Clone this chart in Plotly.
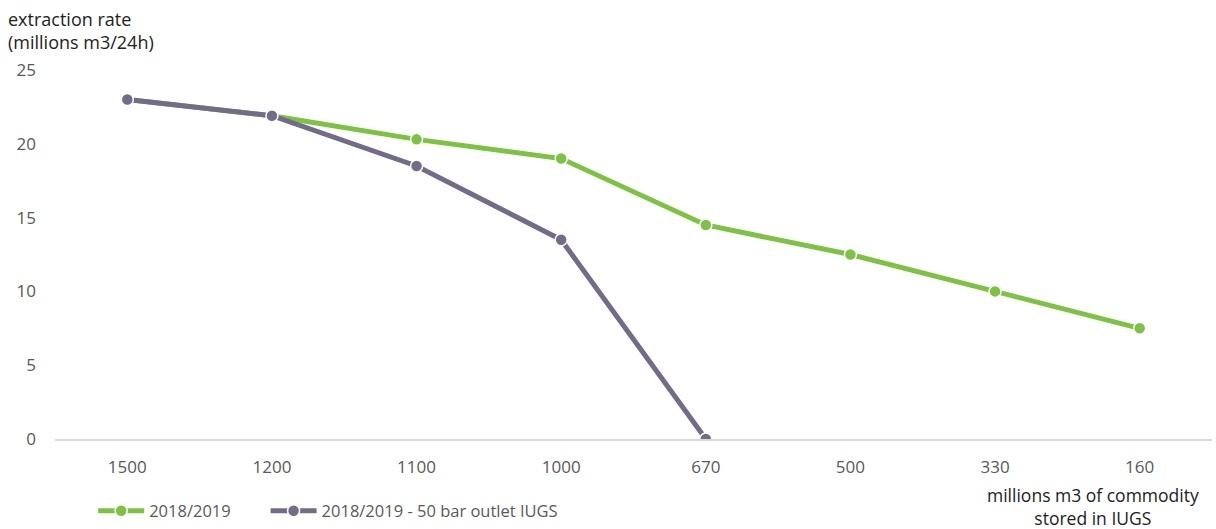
import plotly.graph_objects as go

categories = ["1500", "1200", "1100", "1000", "670", "500", "330", "160"]
series_main = [23.0, 21.9, 20.3, 19.0, 14.5, 12.5, 10.0, 7.5]
series_50bar = [23.0, 21.9, 18.5, 13.5, 0.0]
y_ticks = [0, 5, 10, 15, 20, 25]

GREEN = "#7DC242"
PURPLE = "#736B87"
FONT = "Open Sans"

fig = go.Figure()
fig.add_trace(go.Scatter(
    x=categories, y=series_main, name="2018/2019", mode="lines+markers",
    line=dict(color=GREEN, width=5), legend="legend",
    marker=dict(size=12, color=GREEN, line=dict(color="white", width=1.5)),
))
fig.add_trace(go.Scatter(
    x=categories[:len(series_50bar)], y=series_50bar,
    name="2018/2019 - 50 bar outlet IUGS", mode="lines+markers",
    line=dict(color=PURPLE, width=5), legend="legend2",
    marker=dict(size=12, color=PURPLE, line=dict(color="white", width=1.5)),
))

legend_common = dict(orientation="h", xanchor="left", yref="container", y=0.034,
                     yanchor="middle", font=dict(size=16.5, color="#595959"),
                     bgcolor="rgba(0,0,0,0)", itemwidth=46)

fig.update_layout(
    width=1216, height=529,
    margin=dict(l=55, r=4, t=70, b=90),
    paper_bgcolor="white", plot_bgcolor="white",
    font=dict(family=FONT, color="#595959", size=16),
    showlegend=True,
    legend=dict(x=0.033, **legend_common),
    legend2=dict(x=0.182, **legend_common),
    xaxis=dict(type="category", categoryorder="array", categoryarray=categories,
               range=[-0.5, len(categories) - 0.5],
               showgrid=False, zeroline=False, showline=True, linecolor="#D9D9D9", linewidth=1.5,
               ticks="", tickfont=dict(size=17, color="#595959"), ticklabelstandoff=12),
    yaxis=dict(range=[0, 25], tickvals=y_ticks, showgrid=False, zeroline=False,
               showline=False, ticks="", tickfont=dict(size=17, color="#595959"),
               ticklabelstandoff=18),
    annotations=[
        dict(text="extraction rate<br>(millions m3/24h)", xref="paper", yref="paper",
             x=-0.042, y=1.0, xanchor="left", yanchor="bottom", yshift=14, showarrow=False,
             align="left", font=dict(size=18, color="#222222", family=FONT)),
        dict(text="millions m3 of commodity<br>stored in IUGS", xref="paper", yref="paper",
             x=0.897, y=0, xanchor="center", yanchor="top", yshift=-42, showarrow=False,
             align="center", font=dict(size=17.5, color="#222222", family=FONT)),
    ],
)

fig.write_html("out.html")
